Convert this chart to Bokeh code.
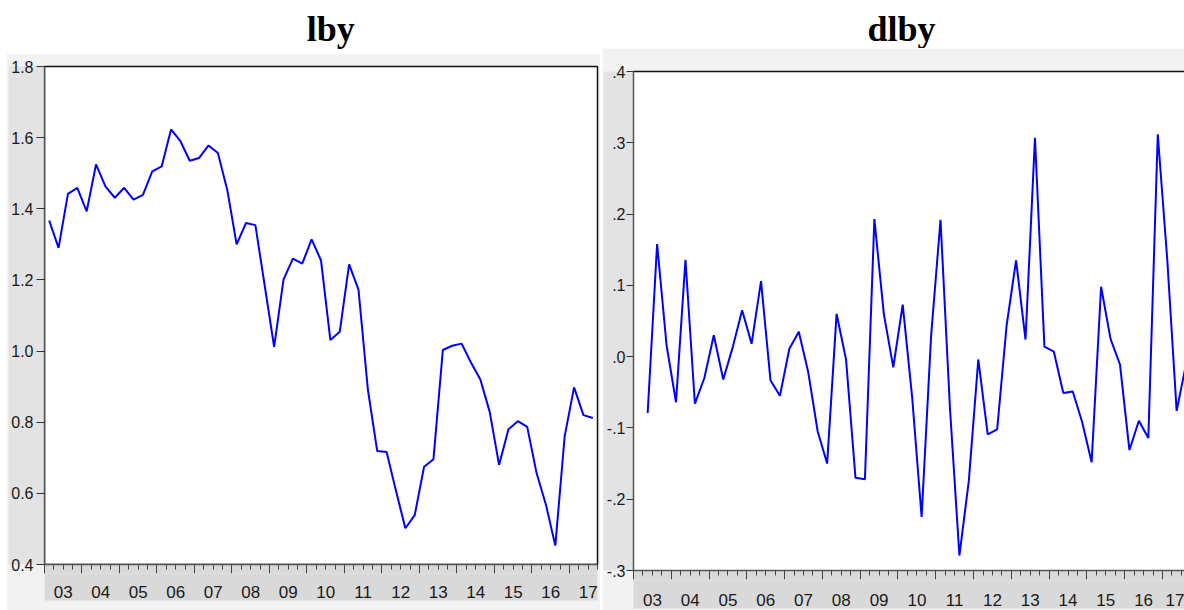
from bokeh.plotting import figure
from bokeh.models import (Range1d, LinearAxis, FixedTicker, CustomJSTickFormatter,
                          Label, Spacer)
from bokeh.layouts import row, column
from bokeh.embed import file_html
from bokeh.resources import INLINE

# ---------------- data ----------------
year_labels = ["03", "04", "05", "06", "07", "08", "09", "10",
               "11", "12", "13", "14", "15", "16", "17"]
quarters = [f"20{y}Q{q}" for y in year_labels for q in (1, 2, 3, 4)][:59]   # 2003Q1 .. 2017Q3

lby = [1.367, 1.290, 1.442, 1.459, 1.393, 1.525, 1.463, 1.431, 1.459, 1.426,
       1.439, 1.505, 1.519, 1.623, 1.590, 1.535, 1.543, 1.578, 1.557, 1.453,
       1.300, 1.360, 1.354, 1.183, 1.012, 1.201, 1.260, 1.246, 1.314, 1.255,
       1.031, 1.054, 1.244, 1.173, 0.892, 0.719, 0.716, 0.607, 0.502, 0.539,
       0.675, 0.696, 1.003, 1.015, 1.021, 0.968, 0.920, 0.829, 0.680, 0.780,
       0.803, 0.787, 0.657, 0.568, 0.453, 0.761, 0.898, 0.820, 0.812]

# dlby starts at 2003Q2
dlby = [-0.079, 0.158, 0.016, -0.064, 0.136, -0.066, -0.030, 0.030, -0.032, 0.013,
        0.065, 0.018, 0.106, -0.033, -0.055, 0.011, 0.035, -0.022, -0.105, -0.150,
        0.060, -0.004, -0.170, -0.172, 0.193, 0.060, -0.015, 0.073, -0.057, -0.225,
        0.028, 0.192, -0.072, -0.279, -0.174, -0.004, -0.109, -0.102, 0.044, 0.135,
        0.024, 0.307, 0.014, 0.007, -0.051, -0.049, -0.092, -0.148, 0.098, 0.025,
        -0.011, -0.131, -0.090, -0.114, 0.312, 0.137, -0.076, -0.010]

lby_ticks = [0.4, 0.6, 0.8, 1.0, 1.2, 1.4, 1.6, 1.8]
dlby_ticks = [-0.3, -0.2, -0.1, 0.0, 0.1, 0.2, 0.3, 0.4]

# ---------------- positions (quarter units, obs at mid-quarter) ----------------
x_all = [i + 0.5 for i in range(len(quarters))]
x_lby = x_all
x_dlby = x_all[1:]
year_bounds = [4 * k for k in range(len(year_labels) + 1)]
quarter_bounds = list(range(0, 4 * len(year_labels) + 1))
year_mids = [4 * k + 2 for k in range(len(year_labels))]

TICK_FONT = "Liberation Sans"
TITLE_FONT = "Liberation Serif"
TXT = "#1a1a1a"


def title_fig(text, width, height, cx, by):
    t = figure(width=width, height=height, x_axis_type=None, y_axis_type=None,
               x_range=Range1d(0, width), y_range=Range1d(0, height),
               toolbar_location=None, output_backend="svg", title=None,
               min_border=0, min_border_left=0, min_border_right=0,
               min_border_top=0, min_border_bottom=0, outline_line_color=None,
               background_fill_color="white", border_fill_color="white")
    t.add_layout(Label(x=cx, y=by, text=text,
                       text_align="center", text_baseline="alphabetic",
                       text_font=TITLE_FONT, text_font_style="bold",
                       text_font_size="36px", text_color="black"))
    return t


def panel(xs, ys, y0, y1, yticks, width, height, mbl, mbt, mbb, mbr, x_end,
          ytick, ystand, lab_standoff, fmt_code, full_outline):
    p = figure(width=width, height=height, x_range=Range1d(0, x_end),
               y_range=Range1d(y0, y1), x_axis_type=None, y_axis_type=None,
               toolbar_location=None, output_backend="svg", title=None,
               min_border_left=mbl, min_border_top=mbt, min_border_bottom=mbb,
               min_border_right=mbr)
    p.background_fill_color = "white"
    p.border_fill_color = "#f2f2f2"
    if full_outline:
        p.outline_line_color = "#111111"
        p.outline_line_width = 1.5
    else:
        p.outline_line_color = None
        top = LinearAxis(ticker=FixedTicker(ticks=[], minor_ticks=[]),
                         formatter=CustomJSTickFormatter(code="return ''"))
        top.major_label_text_font_size = "0px"
        top.major_tick_out = 0
        top.major_tick_in = 0
        top.minor_tick_out = 0
        top.minor_tick_in = 0
        top.axis_line_color = "#111111"
        top.axis_line_width = 1.5
        p.add_layout(top, "above")

    ya = LinearAxis(ticker=FixedTicker(ticks=yticks, minor_ticks=[]),
                    formatter=CustomJSTickFormatter(code=fmt_code))
    ya.major_tick_out = ytick
    ya.major_tick_in = 0
    ya.major_label_standoff = ystand
    ya.axis_label_standoff = 0
    ya.major_label_text_font = TICK_FONT
    ya.major_label_text_font_size = "16px"
    ya.major_label_text_color = TXT
    ya.axis_line_color = "#555555"
    ya.axis_line_width = 1.5
    ya.major_tick_line_color = "#333333"
    ya.background_fill_color = "#e3e3e3"
    p.add_layout(ya, "left")

    # ruler axis: year ticks (long) + quarter ticks (short), no labels
    xa = LinearAxis(ticker=FixedTicker(ticks=year_bounds, minor_ticks=quarter_bounds),
                    formatter=CustomJSTickFormatter(code="return ''"))
    xa.major_tick_out = 9
    xa.major_tick_in = 0
    xa.minor_tick_out = 5
    xa.minor_tick_in = 0
    xa.major_label_standoff = 0
    xa.major_label_text_font_size = "0px"
    xa.axis_line_color = "#555555"
    xa.axis_line_width = 1.5
    xa.major_tick_line_color = "#444444"
    xa.minor_tick_line_color = "#444444"
    xa.background_fill_color = "#d9d9d9"
    p.add_layout(xa, "below")

    # label axis: year labels centred in each year
    xl = LinearAxis(ticker=FixedTicker(ticks=year_mids, minor_ticks=[]),
                    formatter=CustomJSTickFormatter(
                        args=dict(labels=year_labels),
                        code="const k = Math.round((tick - 2) / 4); return labels[k] ?? '';"))
    xl.major_tick_out = 0
    xl.major_tick_in = 0
    xl.axis_line_color = None
    xl.major_label_standoff = lab_standoff
    xl.major_label_text_font = TICK_FONT
    xl.major_label_text_font_size = "17px"
    xl.major_label_text_color = TXT
    xl.background_fill_color = "#d9d9d9"
    p.add_layout(xl, "below")

    p.line(xs, ys, line_color="#0000ff", line_width=2)
    return p


left_title = title_fig("lby", 594, 53, 307.5, 25)
left = panel(x_lby, lby, 0.4, 1.8, lby_ticks, 594, 557, 38, 13, 46, 3,
             len(quarters), 8, 3, 12, "return tick.toFixed(1);", True)

right_title = title_fig("dlby", 582, 48, 283, 20)
right = panel(x_dlby, dlby, -0.3, 0.4, dlby_ticks, 582, 562, 31, 23, 40, 0,
              58.33, 7, 1, 14, "return tick.toFixed(1).replace('0.', '.');", False)

layout = row(Spacer(width=6, height=10),
             column(left_title, left, spacing=0),
             Spacer(width=2, height=10),
             column(right_title, right, spacing=0), spacing=0)

open("out.html", "w").write(file_html(layout, INLINE))
